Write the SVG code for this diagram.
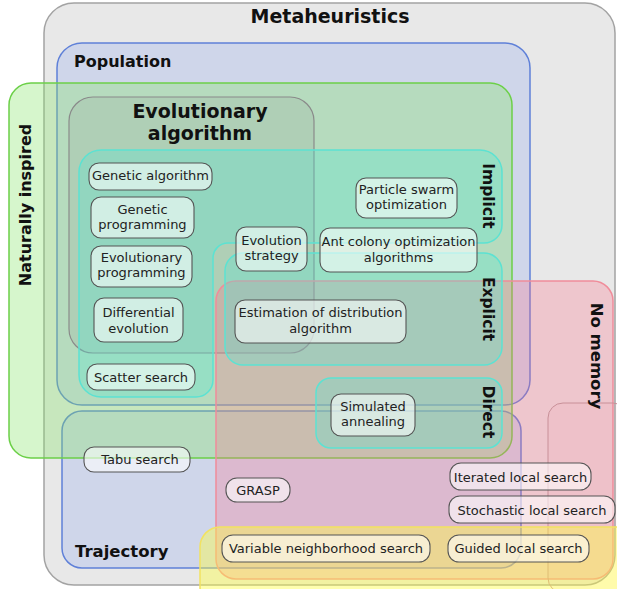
<svg xmlns="http://www.w3.org/2000/svg" width="617" height="589" viewBox="0 0 617 589">
<style>
.t{font-family:"DejaVu Sans","Liberation Sans",sans-serif;font-size:13px;fill:#222;text-anchor:middle}
.h{font-family:"DejaVu Sans","Liberation Sans",sans-serif;font-weight:bold;fill:#111}
.leaf{fill:#ffffff;fill-opacity:0.58;stroke:#555;stroke-width:1.1}
.cyan{fill:#50e8d4;fill-opacity:0.3;stroke:#5ce2d2;stroke-width:1.5}
</style>
<g id="regions">
<g id="metaheuristics"><rect x="44" y="3" width="571" height="582" rx="30" fill="#e8e8e8" stroke="#a3a3a3" stroke-width="1.5"/></g>
<g id="population"><rect x="57" y="43" width="473" height="362" rx="25" fill="#9cb0f0" fill-opacity="0.32" stroke="#5f80d8" stroke-width="1.5"/></g>
<g id="trajectory"><rect x="62" y="411" width="459" height="157" rx="20" fill="#9cb0f0" fill-opacity="0.32" stroke="#5f80d8" stroke-width="1.5"/></g>
<g id="naturally-inspired"><rect x="9" y="83" width="503" height="375" rx="22" fill="#88e46a" fill-opacity="0.34" stroke="#6cd048" stroke-width="1.5"/></g>
<g id="evolutionary-box"><rect x="69" y="97" width="245" height="256" rx="24" fill="#909090" fill-opacity="0.15" stroke="#8a8a8a" stroke-width="1.2"/></g>
<g id="no-memory"><rect x="216" y="281" width="397" height="298" rx="20" fill="#ff7088" fill-opacity="0.28" stroke="#f08c9a" stroke-width="1.5"/></g>
<g id="inner-memory"><rect x="548" y="403" width="80" height="190" rx="15" fill="#ff6f85" fill-opacity="0.05" stroke="#c89098" stroke-width="1"/></g>
<g id="implicit"><path class="cyan" d="M101,150 H480 A22,22 0 0 1 502,172 V225 A18,18 0 0 1 484,243 H228 A15,15 0 0 0 213,258 V380 A17,17 0 0 1 196,397 H101 A22,22 0 0 1 79,375 V172 A22,22 0 0 1 101,150 Z"/></g>
<g id="explicit"><rect class="cyan" x="225" y="253" width="277" height="112" rx="18"/></g>
<g id="direct"><rect class="cyan" x="316" y="378" width="186" height="70" rx="15"/></g>
<g id="yellow"><rect x="200" y="527" width="440" height="80" rx="20" fill="#ffff40" fill-opacity="0.42" stroke="#f2e260" stroke-width="1.5"/></g>
</g>
<g id="connectors"></g>
<g id="labels">
<text class="h" x="330" y="23" font-size="19" text-anchor="middle">Metaheuristics</text>
<text class="h" x="74" y="67" font-size="16">Population</text>
<text class="h" x="200" y="118" font-size="19" text-anchor="middle">Evolutionary</text>
<text class="h" x="200" y="140" font-size="19" text-anchor="middle">algorithm</text>
<text class="h" x="75" y="557" font-size="16.5">Trajectory</text>
<text class="h" font-size="16" text-anchor="middle" transform="translate(31,205) rotate(-90)">Naturally inspired</text>
<text class="h" font-size="15.5" text-anchor="middle" transform="translate(483,196) rotate(90)">Implicit</text>
<text class="h" font-size="15.5" text-anchor="middle" transform="translate(483,309) rotate(90)">Explicit</text>
<text class="h" font-size="15.5" text-anchor="middle" transform="translate(483,412) rotate(90)">Direct</text>
<text class="h" font-size="16.5" text-anchor="middle" transform="translate(591,356) rotate(90)">No memory</text>
</g>
<g id="n-ga"><rect class="leaf" x="89" y="163" width="123" height="27" rx="10"/><text class="t" x="150.5" y="180">Genetic algorithm</text></g>
<g id="n-gp"><rect class="leaf" x="91" y="197" width="103" height="41" rx="10"/><text class="t" x="142.5" y="214">Genetic</text><text class="t" x="142.5" y="229">programming</text></g>
<g id="n-ep"><rect class="leaf" x="91" y="246" width="101" height="41" rx="10"/><text class="t" x="141.5" y="262">Evolutionary</text><text class="t" x="141.5" y="277">programming</text></g>
<g id="n-de"><rect class="leaf" x="94" y="298" width="89" height="44" rx="10"/><text class="t" x="138.5" y="317">Differential</text><text class="t" x="138.5" y="333">evolution</text></g>
<g id="n-ss"><rect class="leaf" x="87" y="364" width="108" height="26" rx="10"/><text class="t" x="141" y="382">Scatter search</text></g>
<g id="n-es"><rect class="leaf" x="236" y="227" width="71" height="44" rx="10"/><text class="t" x="271.5" y="245">Evolution</text><text class="t" x="271.5" y="260">strategy</text></g>
<g id="n-pso"><rect class="leaf" x="356" y="178" width="101" height="40" rx="10"/><text class="t" x="406.5" y="194">Particle swarm</text><text class="t" x="406.5" y="209">optimization</text></g>
<g id="n-aco"><rect class="leaf" x="320" y="228" width="157" height="44" rx="10"/><text class="t" x="398.5" y="246">Ant colony optimization</text><text class="t" x="398.5" y="262">algorithms</text></g>
<g id="n-eda"><rect class="leaf" x="235" y="300" width="171" height="43" rx="10"/><text class="t" x="320.5" y="317">Estimation of distribution</text><text class="t" x="320.5" y="333">algorithm</text></g>
<g id="n-sa"><rect class="leaf" x="331" y="394" width="84" height="42" rx="10"/><text class="t" x="373" y="411">Simulated</text><text class="t" x="373" y="426">annealing</text></g>
<g id="n-tabu"><rect class="leaf" x="84" y="447" width="106" height="25" rx="10"/><text class="t" x="140" y="464">Tabu search</text></g>
<g id="n-grasp"><rect class="leaf" x="226" y="478" width="64" height="24" rx="11"/><text class="t" x="258" y="495">GRASP</text></g>
<g id="n-ils"><rect class="leaf" x="450" y="463" width="141" height="27" rx="11"/><text class="t" x="520.5" y="482">Iterated local search</text></g>
<g id="n-sls"><rect class="leaf" x="449" y="496" width="166" height="27" rx="11"/><text class="t" x="532" y="515">Stochastic local search</text></g>
<g id="n-vns"><rect class="leaf" x="222" y="535" width="208" height="27" rx="11"/><text class="t" x="326" y="553">Variable neighborhood search</text></g>
<g id="n-gls"><rect class="leaf" x="448" y="535" width="141" height="27" rx="11"/><text class="t" x="518.5" y="553">Guided local search</text></g>
</svg>
